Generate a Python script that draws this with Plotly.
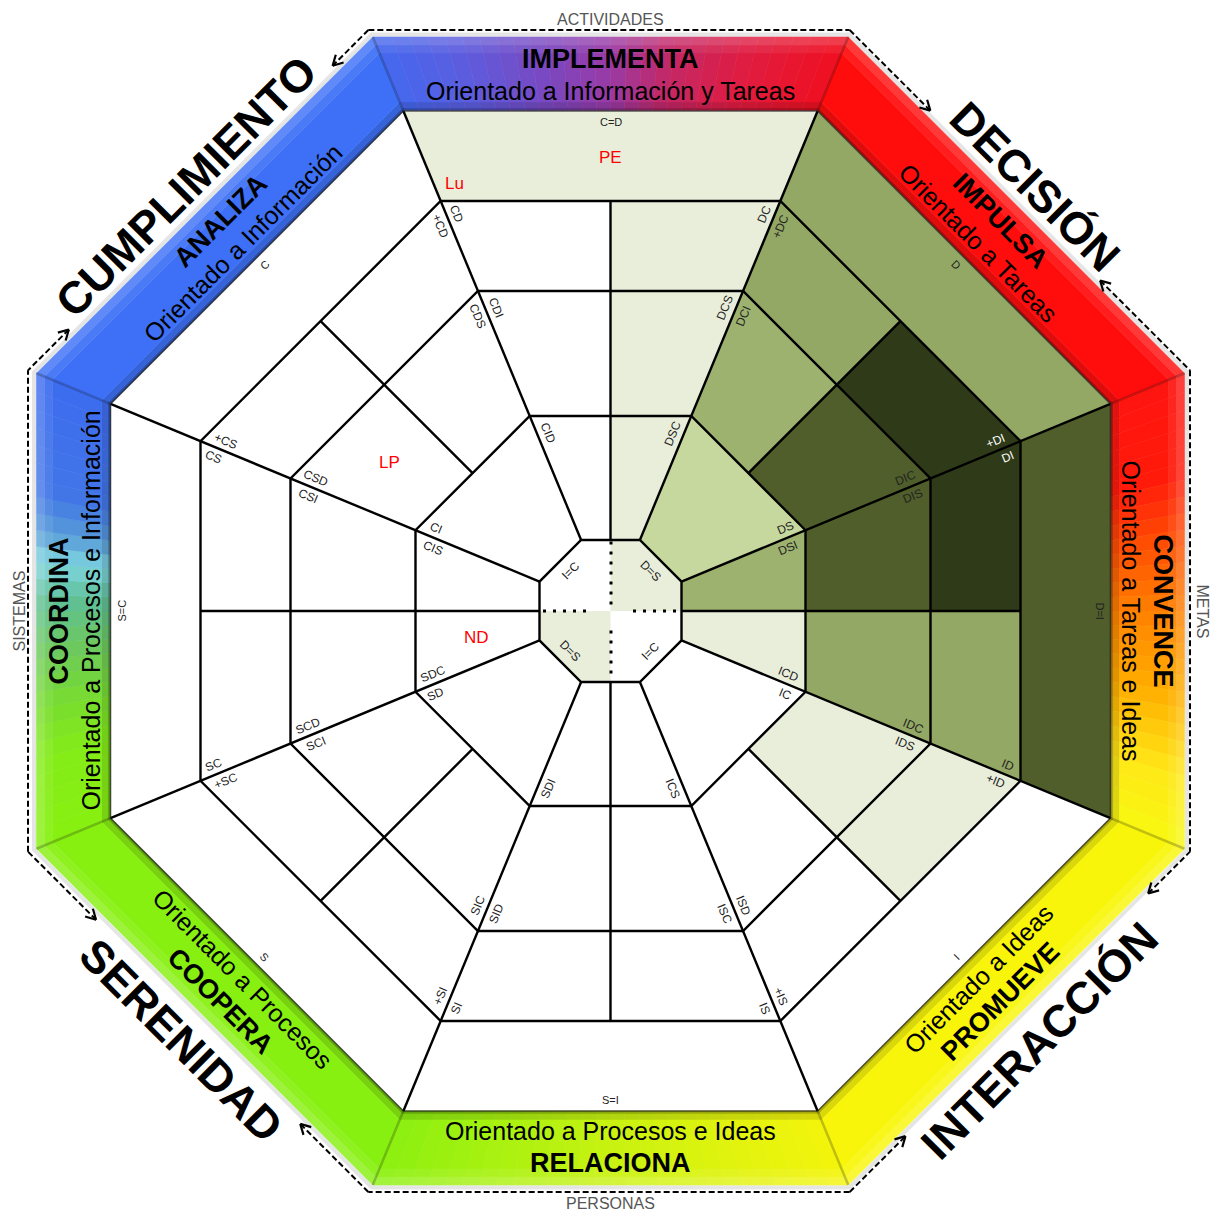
import math
import plotly.graph_objects as go

# ---------------- chart content ----------------
SIDE_ANGLES = [90, 45, 0, -45, -90, -135, 180, 135]
SIDE_TITLES = ["IMPLEMENTA", "IMPULSA", "CONVENCE", "PROMUEVE",
               "RELACIONA", "COOPERA", "COORDINA", "ANALIZA"]
SIDE_SUBTITLES = ["Orientado a Información y Tareas", "Orientado a Tareas",
                  "Orientado a Tareas e Ideas", "Orientado a Ideas",
                  "Orientado a Procesos e Ideas", "Orientado a Procesos",
                  "Orientado a Procesos e Información", "Orientado a Información"]
SIDE_CODES = ["C=D", "D", "D=I", "I", "S=I", "S", "S=C", "C"]

CORNER_WORDS = ["DECISIÓN", "INTERACCIÓN", "SERENIDAD", "CUMPLIMIENTO"]
CORNER_ANGLES = [45, -45, -135, 135]

AXIS_WORDS = ["ACTIVIDADES", "METAS", "PERSONAS", "SISTEMAS"]
AXIS_ANGLES = [90, 0, -90, 180]

VERTEX_ANGLES = [112.5, 67.5, 22.5, -22.5, -67.5, -112.5, -157.5, 157.5]
RING2_CCW = ["", "DSC", "DS", "ICD", "", "SDI", "SD", "CIS"]
RING2_CW = ["CID", "", "DSI", "IC", "ICS", "", "SDC", "CI"]
RING3_CCW = ["CDS", "DCS", "DIC", "IDC", "ISD", "SID", "SCI", "CSI"]
RING3_CW = ["CDI", "DCI", "DIS", "IDS", "ISC", "SIC", "SCD", "CSD"]
RING4_CCW = ["+CD", "DC", "+DI", "ID", "+IS", "SI", "+SC", "CS"]
RING4_CW = ["CD", "+DC", "DI", "+ID", "IS", "+SI", "SC", "+CS"]

CENTER_EDGE_ANGLES = [135, 45, -135, -45]
CENTER_EDGE_CODES = ["I=C", "D=S", "D=S", "I=C"]

# shaded cells: sector (side angle), ring band 1..4, half, shade
CELL_SECTOR = [90, 90, 90, 90,
               45, 45, 45, 45, 45, 45,
               0, 0, 0, 0, 0, 0, 0,
               -45, -45]
CELL_BAND = [4, 1, 2, 3,
             1, 2, 2, 3, 3, 4,
             1, 1, 2, 2, 3, 3, 4,
             2, 3]
CELL_HALF = ["all", "cw", "cw", "cw",
             "all", "ccw", "cw", "ccw", "cw", "all",
             "ccw", "cw", "ccw", "cw", "ccw", "cw", "all",
             "ccw", "ccw"]
CELL_SHADE = ["L", "L", "L", "L",
              "G1", "G2", "G4", "G3", "G5", "G3",
              "G2", "L", "G4", "G3", "G5", "G3", "G4",
              "L", "L"]
CENTER_QUADRANT_START = [0, 180]
CENTER_QUADRANT_SHADE = ["L", "L"]

PROFILE_TAGS = ["PE", "Lu", "LP", "ND"]

# ---------------- styling / layout ----------------
SHADES = {"L": "#e9eedb", "G1": "#c6d89d", "G2": "#9db26f", "G3": "#93a864",
          "G4": "#4f5e2a", "G5": "#2f3a19"}
FONT = "Liberation Sans, Arial, Helvetica, sans-serif"
W, H = 1214, 1216
CX, CY = 610.5, 611.0
RINGS = [71, 195, 320, 410, 500]
BAND_OUT = 574
TAG_POLAR = [(90, 454), (110.1, 455), (146, 266), (191, 137)]

BAND_STOPS = {
    90: [(0, "#4468ee"), (0.15, "#5a5ee0"), (0.35, "#7a48c0"), (0.5, "#9a3aa6"),
         (0.63, "#c22868"), (0.81, "#e01c40"), (1, "#f01020")],
    0: [(0, "#ff1410"), (0.2, "#ff1a0a"), (0.33, "#ff4a04"), (0.5, "#ff8000"),
        (0.69, "#ffb000"), (0.86, "#ffe818"), (1, "#f8f810")],
    -90: [(0, "#f4f40c"), (0.5, "#c8f210"), (1, "#8cf010")],
    180: [(0, "#88f010"), (0.18, "#84ec18"), (0.29, "#78dc30"), (0.42, "#6cc860"),
          (0.53, "#5fbf98"), (0.61, "#7fd6e0"), (0.67, "#5a9fd8"), (0.76, "#4276e6"),
          (1, "#3d6cf0")],
}
BAND_SOLID = {45: "#ff0c0c", -45: "#f8f50a", -135: "#88f010", 135: "#3d70f6"}
BAND_LAYERS = [(500, 503, -0.30), (503, 509, -0.12), (509, 558, 0.0),
               (558, 566, 0.07), (566, BAND_OUT, 0.18)]


def opt(theta, r):
    """Point on an octagonal ring of apothem r at direction theta (deg, CCW)."""
    ts = round(theta / 45.0) * 45.0
    d = r / math.cos(math.radians(theta - ts))
    return CX + d * math.cos(math.radians(theta)), CY - d * math.sin(math.radians(theta))


def vertex_angles_between(t1, t2):
    out = []
    k = math.floor((t1 - 22.5) / 45.0)
    while True:
        a = 22.5 + 45.0 * k
        if a >= t2 - 1e-9:
            break
        if a > t1 + 1e-9:
            out.append(a)
        k += 1
    return out


def cell_poly(t1, t2, r1, r2):
    angs = [t1] + vertex_angles_between(t1, t2) + [t2]
    pts = [opt(a, r2) for a in angs]
    if r1 > 0:
        pts += [opt(a, r1) for a in reversed(angs)]
    else:
        pts.append((CX, CY))
    pts.append(pts[0])
    return pts


def along(a):
    """Readable text angle (clockwise degrees) for text running along direction a."""
    t = (-a) % 360.0
    if t > 180:
        t -= 360
    if t > 90:
        t -= 180
    elif t < -90:
        t += 180
    return t


def hex2rgb(h):
    h = h.lstrip("#")
    return tuple(int(h[i:i + 2], 16) for i in (0, 2, 4))


def lerp_stops(stops, t):
    for (t0, c0), (t1, c1) in zip(stops[:-1], stops[1:]):
        if t <= t1:
            f = (t - t0) / (t1 - t0)
            a, b = hex2rgb(c0), hex2rgb(c1)
            return tuple(a[i] + (b[i] - a[i]) * f for i in range(3))
    return hex2rgb(stops[-1][1])


def shade(rgb, f):
    if f >= 0:
        return tuple(c + (255 - c) * f for c in rgb)
    return tuple(c * (1 + f) for c in rgb)


def rgbstr(c):
    return "rgb(%d,%d,%d)" % tuple(int(round(max(0, min(255, v)))) for v in c)


fig = go.Figure()
shapes = []
annotations = []

# ---------------- coloured outer band ----------------
for phi in SIDE_ANGLES:
    n = 28 if phi in BAND_STOPS else 1
    for i in range(n):
        ta = phi + 22.5 - 45.0 * i / n
        tb = phi + 22.5 - 45.0 * (i + 1) / n
        tm = (i + 0.5) / n
        base = lerp_stops(BAND_STOPS[phi], tm) if phi in BAND_STOPS else hex2rgb(BAND_SOLID[phi])
        for (ra, rb, f) in BAND_LAYERS:
            pts = [opt(ta, rb), opt(tb, rb), opt(tb, ra), opt(ta, ra)]
            path = "M " + " L ".join("%.2f %.2f" % p for p in pts) + " Z"
            col = rgbstr(shade(base, f))
            shapes.append(dict(type="path", path=path, xref="x", yref="y",
                               fillcolor=col, line=dict(color=col, width=0.6),
                               layer="below"))
# creases at the band joints and soft outer shadow
for a in VERTEX_ANGLES:
    p0, p1 = opt(a, RINGS[-1]), opt(a, BAND_OUT)
    shapes.append(dict(type="line", x0=p0[0], y0=p0[1], x1=p1[0], y1=p1[1],
                       xref="x", yref="y", layer="below",
                       line=dict(color="rgba(0,0,0,0.22)", width=2.5)))
outer = [opt(22.5 + 45 * k, BAND_OUT + 2.5) for k in range(9)]
shapes.append(dict(type="path", xref="x", yref="y", layer="below",
                   path="M " + " L ".join("%.2f %.2f" % p for p in outer) + " Z",
                   line=dict(color="rgba(0,0,0,0.10)", width=4)))

# ---------------- shaded cells ----------------
for sec, band, half, sh in zip(CELL_SECTOR, CELL_BAND, CELL_HALF, CELL_SHADE):
    if half == "all":
        t1, t2 = sec - 22.5, sec + 22.5
    elif half == "ccw":
        t1, t2 = sec, sec + 22.5
    else:
        t1, t2 = sec - 22.5, sec
    pts = cell_poly(t1, t2, RINGS[band - 1], RINGS[band])
    fig.add_trace(go.Scatter(x=[p[0] for p in pts], y=[p[1] for p in pts],
                             mode="lines", fill="toself", fillcolor=SHADES[sh],
                             line=dict(width=0.5, color=SHADES[sh]), hoverinfo="skip"))
for start, sh in zip(CENTER_QUADRANT_START, CENTER_QUADRANT_SHADE):
    pts = cell_poly(start, start + 90, 0, RINGS[0])
    fig.add_trace(go.Scatter(x=[p[0] for p in pts], y=[p[1] for p in pts],
                             mode="lines", fill="toself", fillcolor=SHADES[sh],
                             line=dict(width=0, color=SHADES[sh]), hoverinfo="skip"))

# ---------------- grid lines ----------------
gx, gy = [], []


def seg(pts):
    for p in pts:
        gx.append(p[0])
        gy.append(p[1])
    gx.append(None)
    gy.append(None)


for r in RINGS[:-1]:
    seg([opt(22.5 + 45 * k, r) for k in range(9)])
for a in VERTEX_ANGLES:
    seg([opt(a, RINGS[0]), opt(a, RINGS[-1])])
for a in [0, 90, 180, 270]:
    seg([opt(a, RINGS[0]), opt(a, RINGS[3])])
for a in [45, 135, 225, 315]:
    seg([opt(a, RINGS[1]), opt(a, RINGS[3])])
fig.add_trace(go.Scatter(x=gx, y=gy, mode="lines", hoverinfo="skip",
                         line=dict(color="black", width=2.4)))
edge = [opt(22.5 + 45 * k, RINGS[-1]) for k in range(9)]
fig.add_trace(go.Scatter(x=[p[0] for p in edge], y=[p[1] for p in edge], mode="lines",
                         hoverinfo="skip", line=dict(color="rgba(30,30,30,0.7)", width=1.6)))

# dotted axes inside the centre octagon
dx, dy = [], []
for i in range(7):
    dx.append(CX + 0.5); dy.append(CY - 68 + 10 * i)
for i in range(5):
    dx.append(CX - 66 + 10 * i); dy.append(CY)
    dx.append(CX + 24 + 10 * i); dy.append(CY)
    dx.append(CX + 0.5); dy.append(CY + 21 + 10 * i)
fig.add_trace(go.Scatter(x=dx, y=dy, mode="markers", hoverinfo="skip",
                         marker=dict(symbol="square", size=3, color="black")))

# ---------------- dashed frame with arrows ----------------
AD, DCX = 581, 609
hh = AD * math.tan(math.radians(22.5))
TL, TR = (DCX - hh, CY - AD), (DCX + hh, CY - AD)
RT, RB = (DCX + AD, CY - hh), (DCX + AD, CY + hh)
BR, BL = (DCX + hh, CY + AD), (DCX - hh, CY + AD)
LB, LT = (DCX - AD, CY + hh), (DCX - AD, CY - hh)
dash_style = dict(color="black", width=2, dash="6px,3px")
for a, b in [(TL, TR), (RT, RB), (BR, BL), (LB, LT)]:
    fig.add_trace(go.Scatter(x=[a[0], b[0]], y=[a[1], b[1]], mode="lines",
                             hoverinfo="skip", line=dash_style))
ax_, ay_ = [], []
for A, B, t1, t2 in [(TL, LT, 0.105, 0.88), (TR, RT, 0.237, 0.736),
                     (BR, RB, 0.164, 0.877), (BL, LB, 0.2, 0.80)]:
    P1 = (A[0] + (B[0] - A[0]) * t1, A[1] + (B[1] - A[1]) * t1)
    P2 = (A[0] + (B[0] - A[0]) * t2, A[1] + (B[1] - A[1]) * t2)
    fig.add_trace(go.Scatter(x=[A[0], P1[0]], y=[A[1], P1[1]], mode="lines",
                             hoverinfo="skip", line=dash_style))
    fig.add_trace(go.Scatter(x=[P2[0], B[0]], y=[P2[1], B[1]], mode="lines",
                             hoverinfo="skip", line=dash_style))
    L = math.hypot(B[0] - A[0], B[1] - A[1])
    ux, uy = (B[0] - A[0]) / L, (B[1] - A[1]) / L
    for tip, d in [(P1, (ux, uy)), (P2, (-ux, -uy))]:
        nx, ny = -d[1], d[0]
        for s in (1, -1):
            ax_ += [tip[0] - 10 * d[0] + s * 5.5 * nx, tip[0], None]
            ay_ += [tip[1] - 10 * d[1] + s * 5.5 * ny, tip[1], None]
fig.add_trace(go.Scatter(x=ax_, y=ay_, mode="lines", hoverinfo="skip",
                         line=dict(color="black", width=2.2)))


# ---------------- texts ----------------
def ann(x, y, text, size, color="#222222", angle=0, bold=False):
    annotations.append(dict(x=x, y=y, xref="x", yref="y", showarrow=False,
                            text="<b>%s</b>" % text if bold else text,
                            textangle=angle, xanchor="center", yanchor="middle",
                            font=dict(size=size, color=color, family=FONT)))


def polar(a, r):
    return CX + r * math.cos(math.radians(a)), CY - r * math.sin(math.radians(a))


for phi, tt, st, code in zip(SIDE_ANGLES, SIDE_TITLES, SIDE_SUBTITLES, SIDE_CODES):
    ang = along(phi - 90)
    x, y = polar(phi, 552); ann(x, y, tt, 27, "black", ang, True)
    x, y = polar(phi, 520); ann(x, y, st, 25, "black", ang)
    x, y = polar(phi, 489); ann(x, y, code, 11, "#222222", ang)

for w, phi in zip(CORNER_WORDS, CORNER_ANGLES):
    r = 600 if phi > 0 else 607
    x, y = polar(phi, r)
    ann(x, y, w, 45, "black", along(phi - 90), True)

for w, phi in zip(AXIS_WORDS, AXIS_ANGLES):
    x, y = polar(phi, 592)
    ann(x, y, w, 16, "#555555", along(phi - 90))

LIGHT_LABELS = {"+DI", "DI"}
for ring_idx, ccw, cw in [(1, RING2_CCW, RING2_CW), (2, RING3_CCW, RING3_CW),
                          (3, RING4_CCW, RING4_CW)]:
    r = RINGS[ring_idx]
    for a, l1, l2 in zip(VERTEX_ANGLES, ccw, cw):
        vx, vy = opt(a, r)
        ux, uy = math.cos(math.radians(a)), -math.sin(math.radians(a))
        for lab, px, py in [(l1, -math.sin(math.radians(a)), -math.cos(math.radians(a))),
                            (l2, math.sin(math.radians(a)), math.cos(math.radians(a)))]:
            if not lab:
                continue
            s = 8 + 5 * len(lab)
            x = vx - s * ux + 10 * px
            y = vy - s * uy + 10 * py
            col = "white" if lab in LIGHT_LABELS else "#222222"
            ann(x, y, lab, 12, col, along(a))

for phi, code in zip(CENTER_EDGE_ANGLES, CENTER_EDGE_CODES):
    x, y = polar(phi, 57)
    ann(x, y, code, 12, "#222222", along(phi - 90))

for tag, (a, r) in zip(PROFILE_TAGS, TAG_POLAR):
    x, y = polar(a, r)
    ann(x, y, tag, 17, "#ff0000")

fig.update_layout(
    width=W, height=H, margin=dict(l=0, r=0, t=0, b=0),
    paper_bgcolor="white", plot_bgcolor="white", showlegend=False,
    xaxis=dict(range=[0, W], visible=False, fixedrange=True),
    yaxis=dict(range=[H, 0], visible=False, fixedrange=True),
    shapes=shapes, annotations=annotations,
)
fig.write_html("out.html", config={"displayModeBar": False},
               post_script="document.body.style.margin='0';document.body.style.padding='0';"
                           "document.body.style.overflow='hidden';")
